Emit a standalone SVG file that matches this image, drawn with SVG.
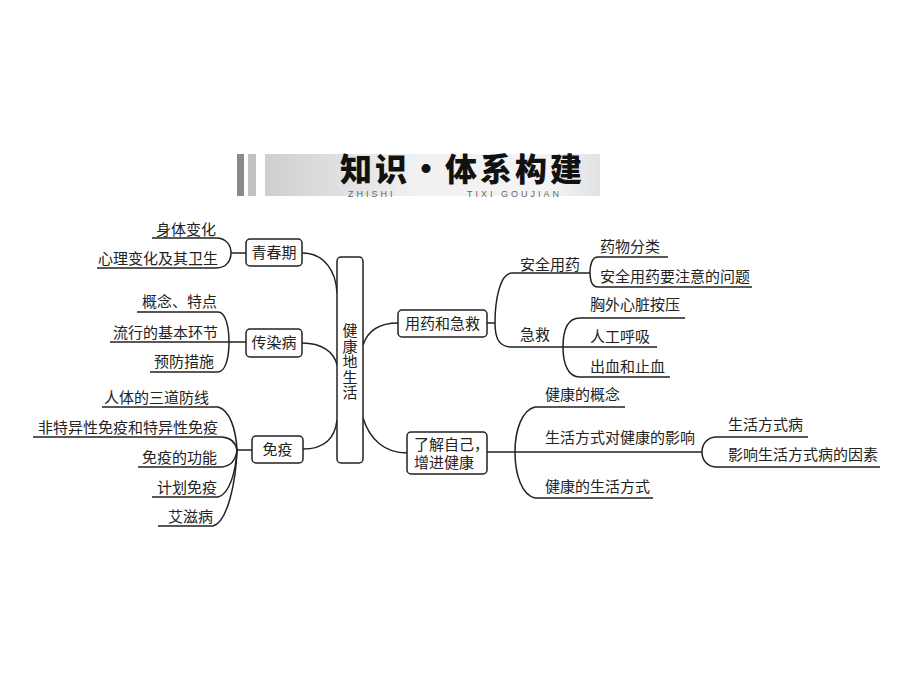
<svg xmlns="http://www.w3.org/2000/svg" width="920" height="700" viewBox="0 0 920 700">
<defs>
<linearGradient id="bg" x1="0" y1="0" x2="1" y2="0">
<stop offset="0" stop-color="#cfcfcf"/>
<stop offset="0.45" stop-color="#f1f1f1"/>
<stop offset="0.85" stop-color="#f4f4f4"/>
<stop offset="1" stop-color="#e2e2e2"/>
</linearGradient>
<style>
.t{font-family:"Liberation Serif","Noto Sans CJK SC",serif;font-size:15px;fill:#222}
.e{text-anchor:end}
.m{text-anchor:middle}
.box{fill:#fff;stroke:#222;stroke-width:1.5}
.ln{fill:none;stroke:#222;stroke-width:1.5}
.title{font-family:"Noto Sans CJK SC",sans-serif;font-size:32px;font-weight:900;fill:#111;letter-spacing:3px}
.sub{font-family:"Liberation Sans",sans-serif;font-size:9px;fill:#666;letter-spacing:3px}
</style>
</defs>
<rect width="920" height="700" fill="#fff"/>
<g id="banner">
<rect x="265" y="154" width="335" height="42" fill="url(#bg)"/>
<rect x="237" y="154" width="7" height="42" fill="#8a8a8a"/>
<rect x="248" y="154" width="8" height="42" fill="#c2c2c2"/>
<text class="title" x="340" y="181">知识·体系构建</text>
<text class="sub" x="348" y="197">ZHISHI</text>
<text class="sub" x="467" y="197">TIXI GOUJIAN</text>
</g>
<g id="connectors">
<path class="ln" d="M302,253 C325,253 336,272 337,293"/>
<path class="ln" d="M302,343 C322,343 334,352 337,365"/>
<path class="ln" d="M303,449 C325,449 335,438 337,420"/>
<path class="ln" d="M363,345 C368,330 380,323 398,323"/>
<path class="ln" d="M363,418 C370,440 385,453 407,453"/>
<path class="ln" d="M152,238 H216 C227,238 231,246 231,253 C231,260 227,268 216,268 H97"/>
<path class="ln" d="M231,253 H246"/>
<path class="ln" d="M137,312 H218 C225,312 229,325 229,342 C229,359 225,372 218,372 H150"/>
<path class="ln" d="M110,342 H246"/>
<path class="ln" d="M102,407 H218 C230,410 236,430 237,450"/>
<path class="ln" d="M33,437 H222 C232,438 236,444 237,450"/>
<path class="ln" d="M138,467 H222 C232,466 236,458 237,450"/>
<path class="ln" d="M152,497 H218 C230,494 236,470 237,450"/>
<path class="ln" d="M158,526 H213 C228,522 236,480 237,450"/>
<path class="ln" d="M237,450 H252"/>
<path class="ln" d="M487,323 H495"/>
<path class="ln" d="M590,273 H512 C500,273 495,300 495,323 C495,340 500,347 512,347 H657"/>
<path class="ln" d="M668,257 H598 C592,257 590,265 590,272 C590,280 592,287 598,287 H752"/>
<path class="ln" d="M685,318 H580 C568,318 563,330 563,347 C563,364 568,377 580,377 H670"/>
<path class="ln" d="M487,452 H702"/>
<path class="ln" d="M625,407 H535 C522,410 515,430 515,452 C515,475 522,495 535,498 H653"/>
<path class="ln" d="M808,437 H717 C707,437 702,444 702,452 C702,460 707,467 717,467 H880"/>
</g>
<g id="center">
<rect class="box" x="337" y="257" width="26" height="206" rx="4"/>
<text class="t m" x="350" y="336">健</text>
<text class="t m" x="350" y="351.5">康</text>
<text class="t m" x="350" y="367">地</text>
<text class="t m" x="350" y="382.5">生</text>
<text class="t m" x="350" y="398">活</text>
</g>
<g id="qingchunqi">
<rect class="box" x="246" y="239" width="56" height="27" rx="4"/>
<text class="t m" x="274" y="258">青春期</text>
</g>
<g id="chuanranbing">
<rect class="box" x="246" y="329" width="56" height="28" rx="4"/>
<text class="t m" x="274" y="348">传染病</text>
</g>
<g id="mianyi">
<rect class="box" x="252" y="436" width="51" height="27" rx="4"/>
<text class="t m" x="277.5" y="455">免疫</text>
</g>
<g id="yongyao">
<rect class="box" x="398" y="310" width="89" height="27" rx="4"/>
<text class="t m" x="442.5" y="329">用药和急救</text>
</g>
<g id="liaojie">
<rect class="box" x="407" y="432" width="80" height="42" rx="4"/>
<text class="t" x="414" y="450">了解自己，</text>
<text class="t" x="414" y="468">增进健康</text>
</g>
<g id="left-items">
<text class="t e" x="216" y="235">身体变化</text>
<text class="t e" x="218" y="264">心理变化及其卫生</text>
<text class="t e" x="217" y="307">概念、特点</text>
<text class="t e" x="218" y="338">流行的基本环节</text>
<text class="t e" x="214" y="367">预防措施</text>
<text class="t e" x="209" y="403">人体的三道防线</text>
<text class="t e" x="218" y="433">非特异性免疫和特异性免疫</text>
<text class="t e" x="217" y="463">免疫的功能</text>
<text class="t e" x="217" y="493">计划免疫</text>
<text class="t e" x="213" y="522">艾滋病</text>
</g>
<g id="right-items">
<text class="t" x="520" y="270">安全用药</text>
<text class="t" x="520" y="340">急救</text>
<text class="t" x="600" y="252">药物分类</text>
<text class="t" x="600" y="282">安全用药要注意的问题</text>
<text class="t" x="590" y="310">胸外心脏按压</text>
<text class="t" x="590" y="342">人工呼吸</text>
<text class="t" x="590" y="372">出血和止血</text>
<text class="t" x="545" y="400">健康的概念</text>
<text class="t" x="545" y="443">生活方式对健康的影响</text>
<text class="t" x="545" y="492">健康的生活方式</text>
<text class="t" x="728" y="430">生活方式病</text>
<text class="t" x="728" y="460">影响生活方式病的因素</text>
</g>
</svg>
